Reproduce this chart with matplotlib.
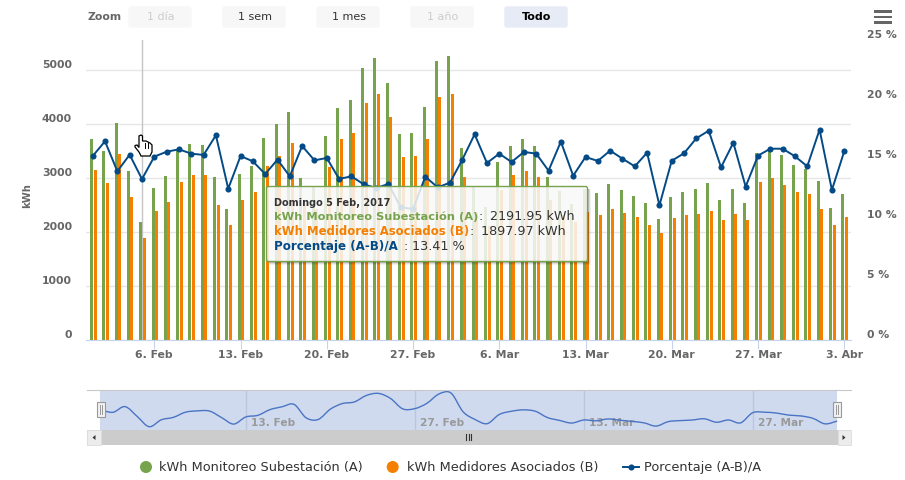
"""
Consumo diario: subestacion vs medidores asociados, con navegador y tooltip.
"""

import numpy as np
import matplotlib
matplotlib.use('Agg')
import matplotlib.pyplot as plt
from matplotlib.patches import FancyBboxPatch, PathPatch, Polygon, Rectangle, Circle
from matplotlib.path import Path

W, H = 905, 481

GREEN = '#76a34b'
ORANGE = '#f57f00'
BLUE = '#034a86'
GRID = '#e6e6e6'
AXIS = '#c7d3ea'
LABEL = '#666666'
DARK = '#333333'

# kWh Monitoreo Subestacion (A), 1 Feb - 3 Abr 2017
subestacion = [3729, 3506, 4025, 3136, 2192, 2821, 3043, 3512, 3636, 3617, 3025,
               2432, 3080, 3228, 3747, 4006, 4229, 3006, 2850, 3784, 4303, 4451,
               5043, 5229, 4766, 3821, 3840, 4321, 5173, 5266, 3562, 2850, 2469,
               3303, 3599, 3729, 3599, 3025, 2765, 2525, 2803, 2728, 2895, 2784,
               2673, 2543, 2247, 2654, 2747, 2803, 2914, 2599, 2803, 2543, 3469,
               3512, 3432, 3247, 3173, 2951, 2451, 2710]

# kWh Medidores Asociados (B)
medidores = [3154, 2914, 3451, 2654, 1898, 2395, 2562, 2932, 3062, 3062, 2506,
             2136, 2599, 2747, 3228, 3414, 3654, 2520, 2423, 3210, 3729, 3840,
             4395, 4562, 4136, 3395, 3414, 3729, 4506, 4562, 3025, 2363, 2105,
             2778, 3062, 3136, 3025, 2593, 2309, 2177, 2375, 2321, 2432, 2358,
             2284, 2136, 1988, 2265, 2321, 2340, 2395, 2228, 2340, 2228, 2932,
             3006, 2877, 2747, 2710, 2432, 2136, 2284]

# Porcentaje (A-B)/A
porcentaje = [15.33, 16.56, 14.06, 15.44, 13.41, 15.28, 15.69, 15.89, 15.53, 15.42,
              17.06, 12.61, 15.33, 14.89, 13.83, 15.03, 13.64, 16.17, 14.97, 15.17,
              13.42, 13.64, 12.97, 12.67, 13.00, 11.06, 10.92, 13.61, 12.72, 13.11,
              15.03, 17.14, 14.75, 15.53, 14.83, 15.67, 15.53, 14.11, 16.53, 13.69,
              15.25, 14.92, 15.78, 15.11, 14.47, 15.61, 11.22, 14.94, 15.56, 16.81,
              17.44, 14.39, 16.44, 12.78, 15.36, 15.94, 15.94, 15.31, 14.47, 17.53,
              12.50, 15.72]

x_ticks = [5, 12, 19, 26, 33, 40, 47, 54, 61]
x_labels = ['6. Feb', '13. Feb', '20. Feb', '27. Feb', '6. Mar', '13. Mar',
            '20. Mar', '27. Mar', '3. Abr']
kwh_ticks = [0, 1000, 2000, 3000, 4000, 5000]
pct_ticks = [0, 5, 10, 15, 20, 25]
nav_ticks = [12, 26, 40, 54]
nav_labels = ['13. Feb', '27. Feb', '13. Mar', '27. Mar']

buttons = ['1 día', '1 sem', '1 mes', '1 año', 'Todo']


def rect_px(x0, y0, x1, y1):
    """Figure rect from pixel corners (y measured from the top)."""
    return [x0 / W, 1 - y1 / H, (x1 - x0) / W, (y1 - y0) / H]


def spline_path(xs, ys):
    """Smooth path through the points (Catmull-Rom as bezier segments)."""
    verts = [(xs[0], ys[0])]
    codes = [Path.MOVETO]
    n = len(xs)
    for i in range(n - 1):
        i0, i3 = max(i - 1, 0), min(i + 2, n - 1)
        c1 = (xs[i] + (xs[i + 1] - xs[i0]) / 6, ys[i] + (ys[i + 1] - ys[i0]) / 6)
        c2 = (xs[i + 1] - (xs[i3] - xs[i]) / 6, ys[i + 1] - (ys[i3] - ys[i]) / 6)
        verts += [c1, c2, (xs[i + 1], ys[i + 1])]
        codes += [Path.CURVE4, Path.CURVE4, Path.CURVE4]
    return Path(verts, codes)


fig = plt.figure(figsize=(W / 100, H / 100), dpi=100, facecolor='white')

# Main chart, one day is 12.32 px and 1 Feb sits at x=92.7
PX_DAY = 12.32
days = np.arange(len(subestacion))
ax = fig.add_axes(rect_px(86, 41, 851, 341))
ax.set_xlim((86 - 92.7) / PX_DAY, (851 - 92.7) / PX_DAY)
ax.set_ylim(0, 300 / 0.054)
ax.set_axisbelow(True)
for side in ['top', 'left', 'right']:
    ax.spines[side].set_visible(False)
ax.spines['bottom'].set_color(AXIS)
ax.set_yticks(kwh_ticks)
ax.set_yticklabels([])
ax.yaxis.grid(True, color=GRID, linewidth=1)
ax.tick_params(axis='y', length=0)
ax.set_xticks(x_ticks)
ax.set_xticklabels([])
ax.tick_params(axis='x', length=6.5, width=0.8, color=AXIS)

ax.axvline(4, color='#c4c4c4', linewidth=1, zorder=1.5)
bar_w = 3 / PX_DAY
ax.bar(days - 1.3 / PX_DAY, subestacion, width=bar_w, color=GREEN, zorder=2)
ax.bar(days + 2.3 / PX_DAY, medidores, width=bar_w, color=ORANGE, zorder=2)

ax2 = ax.twinx()
ax2.set_ylim(0, 25)
ax2.axis('off')
ax2.plot(days, porcentaje, color=BLUE, linewidth=1.4, marker='o', markersize=4.4,
         markeredgewidth=0, zorder=3)

# Navigator, 12.07 px per day starting at x=100.9
NAV_DAY = 12.07
nav = fig.add_axes(rect_px(87, 391, 851, 431))
nav.set_xlim((87 - 100.9) / NAV_DAY, (851 - 100.9) / NAV_DAY)
nav.set_ylim(1891, 5540)
nav.set_xticks([])
nav.set_yticks([])
for side in ['left', 'right', 'bottom']:
    nav.spines[side].set_visible(False)
nav.spines['top'].set_color('#c8c8c8')
nav.axvspan(0 - 0.07, 61, color='#d0daee', zorder=1, linewidth=0)
for tick, label in zip(nav_ticks, nav_labels):
    nav.axvline(tick, color='#bcc6da', linewidth=1, zorder=1.2)
    nav.annotate(label, (tick, 0), xycoords=('data', 'axes fraction'), xytext=(4, 3.5),
                 textcoords='offset points', color='#999999', fontsize=7.6, zorder=1.4,
                 fontweight='bold')
nav.add_patch(PathPatch(spline_path(days.astype(float), np.array(subestacion, dtype=float)),
                        fill=False, edgecolor='#4a74c4', linewidth=1, zorder=2))

# Everything else in plain pixel coordinates on top
ov = fig.add_axes([0, 0, 1, 1], zorder=10)
ov.set_xlim(0, W)
ov.set_ylim(H, 0)
ov.axis('off')
ov.patch.set_alpha(0)


def txt(x, y, s, color=DARK, size=8, weight='normal', ha='left', **kw):
    return ov.text(x, y, s, color=color, fontsize=size, fontweight=weight, ha=ha,
                   va='center', **kw)


# Axis labels
for tick in kwh_ticks:
    txt(72, 341 - tick * 0.054 - 6, str(tick), LABEL, 7.8, 'bold', ha='right')
for tick in pct_ticks:
    txt(867, 341 - tick * 12 - 6, f'{tick} %', LABEL, 7.8, 'bold')
for tick, label in zip(x_ticks, x_labels):
    txt(92.7 + tick * PX_DAY, 355, label, LABEL, 7.8, 'bold', ha='center')
txt(27, 196, 'kWh', LABEL, 7.2, 'bold', ha='center', rotation=90)

# Range selector
txt(87, 17.5, 'Zoom', LABEL, 7.8, 'bold')
for i, label in enumerate(buttons):
    x0 = 128 + i * 94
    active = label == 'Todo'
    disabled = label in ('1 día', '1 año')
    ov.add_patch(FancyBboxPatch((x0 + 1, 8), 62, 20, boxstyle='round,pad=0,rounding_size=2',
                                facecolor='#e6ebf5' if active else '#f7f7f7',
                                edgecolor='#e6ebf5' if active else '#f7f7f7', linewidth=1))
    color = 'black' if active else ('#cccccc' if disabled else DARK)
    txt(x0 + 33, 17, label, color, 8, 'bold' if active else 'normal', ha='center')

# Menu icon
for y in (12.5, 18, 23.5):
    ov.add_patch(Rectangle((874, y - 1.3), 18, 2.6, facecolor='#666666', linewidth=0))

# Scrollbar
ov.add_patch(Rectangle((87, 431), 764, 14.5, facecolor='#cccccc', linewidth=0))
ov.add_patch(Rectangle((87, 431), 13.5, 14.5, facecolor='#ececec', edgecolor='#dddddd', linewidth=0.6))
ov.add_patch(Rectangle((837.5, 431), 13.5, 14.5, facecolor='#ececec', edgecolor='#dddddd', linewidth=0.6))
ov.add_patch(Polygon([(95.5, 436), (95.5, 441), (92.5, 438.5)], facecolor='#333333', linewidth=0))
ov.add_patch(Polygon([(842.5, 436), (842.5, 441), (845.5, 438.5)], facecolor='#333333', linewidth=0))
for x in (466, 468.5, 471):
    ov.plot([x, x], [435, 441], color='#333333', linewidth=0.8)

# Navigator handles
for x in (100.5, 836.5):
    ov.add_patch(Rectangle((x - 3.5, 403), 7.5, 15, facecolor='#f2f2f2', edgecolor='#999999', linewidth=0.8))
    ov.plot([x - 1, x - 1], [406, 415], color='#999999', linewidth=0.7)
    ov.plot([x + 1.5, x + 1.5], [406, 415], color='#999999', linewidth=0.7)

# Legend
ov.add_patch(Circle((146, 468), 6, facecolor=GREEN, linewidth=0))
txt(159, 468, 'kWh Monitoreo Subestación (A)', DARK, 9.3)
ov.add_patch(Circle((392.7, 468), 6, facecolor=ORANGE, linewidth=0))
txt(406.7, 468, 'kWh Medidores Asociados (B)', DARK, 9.3)
ov.plot([623, 639], [468, 468], color=BLUE, linewidth=1.4)
ov.plot([631], [468], marker='o', color=BLUE, markersize=4.4, markeredgewidth=0)
txt(644, 468, 'Porcentaje (A-B)/A', DARK, 9.3)

# Tooltip, shadow only along the right and bottom edges
for off, alpha in ((3, 0.06), (2, 0.09), (1, 0.14)):
    ov.add_patch(Rectangle((587.5, 190), off, 72.5 + off, facecolor='black', alpha=alpha, linewidth=0))
    ov.add_patch(Rectangle((269, 262.5), 318.5, off, facecolor='black', alpha=alpha, linewidth=0))
ov.add_patch(FancyBboxPatch((266.5, 187.5), 321, 75, boxstyle='round,pad=0,rounding_size=2',
                            facecolor=(0.975, 0.975, 0.975, 0.86), edgecolor=GREEN, linewidth=1))
txt(273.5, 203, 'Domingo 5 Feb, 2017', DARK, 7, 'bold')
txt(273.5, 217, 'kWh Monitoreo Subestación (A)', GREEN, 8.2, 'bold')
txt(478, 217, ':', DARK, 9)
txt(490, 217, '2191.95 kWh', DARK, 9.2)
txt(273.5, 232, 'kWh Medidores Asociados (B)', ORANGE, 8.4, 'bold')
txt(469, 232, ':', DARK, 9)
txt(481, 232, '1897.97 kWh', DARK, 9.2)
txt(273.5, 247, 'Porcentaje (A-B)/A', BLUE, 8.6, 'bold')
txt(403, 247, ':', DARK, 9)
txt(412, 247, '13.41 %', DARK, 9.2)

# Mouse pointer
hand = [(139, 137), (141, 136), (142.5, 137), (142.5, 142), (146, 142), (148, 143), (150, 144),
        (152, 146), (152, 153), (150, 157), (141, 157), (139, 153), (135, 148), (135, 146.5),
        (137, 146), (139, 148.5)]
ov.add_patch(Polygon(hand, closed=True, facecolor='white', edgecolor='black', linewidth=0.9))
for x in (145, 148):
    ov.plot([x, x], [143.5, 149], color='black', linewidth=0.7)

fig.savefig('out.png', dpi=100)
